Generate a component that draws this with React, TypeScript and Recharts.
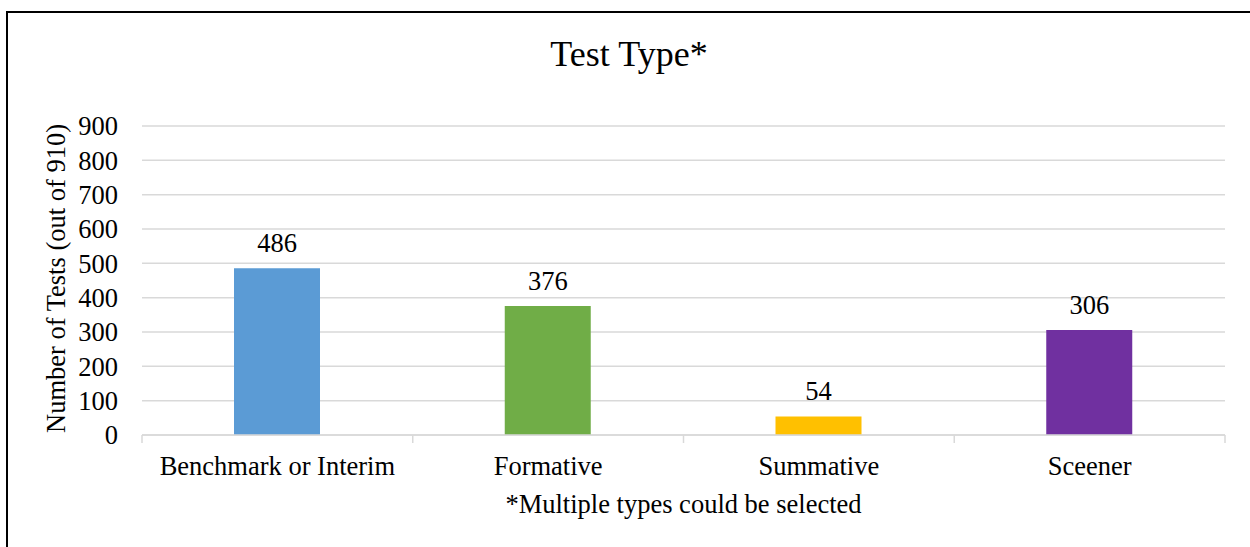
import { BarChart, Bar, XAxis, YAxis, CartesianGrid, Cell, LabelList } from "recharts";

const categories = ["Benchmark or Interim", "Formative", "Summative", "Sceener"];
const counts = [486, 376, 54, 306];
const yTicks = [0, 100, 200, 300, 400, 500, 600, 700, 800, 900];

const barColors = ["#5B9BD5", "#70AD47", "#FFC000", "#7030A0"];

// categories sit at i + 0.5 on a 0..4 numeric axis; whole numbers are the separators
const data = categories.map((name, i) => ({ name, pos: i + 0.5, value: counts[i] }));
const xTicks = [0, 0.5, 1, 1.5, 2, 2.5, 3, 3.5, 4];

const FONT = "'Times New Roman', 'Liberation Serif', serif";
const GRID = "#d9d9d9";

const XTick = (props: any) => {
  const { x, y, payload } = props;
  const v = payload.value;
  if (Number.isInteger(v)) {
    return <line x1={x} x2={x} y1={y} y2={y + 8} stroke={GRID} strokeWidth={1.5} />;
  }
  return (
    <text x={x} y={y + 40} textAnchor="middle" fill="#000" fontSize={26.5} fontFamily={FONT}>
      {categories[Math.floor(v)]}
    </text>
  );
};

export default function App() {
  return (
    <div
      style={{
        position: "absolute",
        left: 0,
        top: 0,
        width: 1250,
        height: 547,
        overflow: "hidden",
        background: "#fff",
        fontFamily: FONT,
      }}
    >
      <div
        style={{
          position: "absolute",
          left: 6,
          top: 11,
          width: 1270,
          height: 560,
          border: "2px solid #000",
        }}
      />
      <div
        style={{
          position: "absolute",
          left: 479,
          top: 36,
          width: 300,
          textAlign: "center",
          fontSize: 36,
          lineHeight: "36px",
          color: "#000",
        }}
      >
        Test Type*
      </div>
      <div style={{ position: "absolute", left: 0, top: 0 }}>
        <BarChart
          width={1250}
          height={547}
          data={data}
          margin={{ top: 126, right: 25, left: 0, bottom: 0 }}
        >
          <CartesianGrid vertical={false} stroke={GRID} strokeWidth={1.5} />
          <XAxis
            dataKey="pos"
            type="number"
            domain={[0, 4]}
            ticks={xTicks}
            interval={0}
            height={112}
            tickLine={false}
            tickSize={0}
            tickMargin={0}
            axisLine={{ stroke: GRID, strokeWidth: 1.5 }}
            tick={<XTick />}
            label={{
              value: "*Multiple types could be selected",
              position: "insideBottom",
              offset: 34,
              fill: "#000",
              fontSize: 26.5,
              fontFamily: FONT,
            }}
          />
          <YAxis
            width={142}
            domain={[0, 900]}
            ticks={yTicks}
            interval={0}
            axisLine={false}
            tickLine={false}
            tickSize={0}
            tickMargin={24}
            tick={{ fill: "#000", fontSize: 26.5, fontFamily: FONT }}
            label={{
              value: "Number of Tests (out of 910)",
              content: (props: any) => {
                const vb = props.viewBox || {};
                const cy = (vb.y ?? 126) + (vb.height ?? 309) / 2 - 2;
                return (
                  <text
                    x={56}
                    y={cy}
                    transform={`rotate(-90, 56, ${cy})`}
                    textAnchor="middle"
                    dominantBaseline="central"
                    fill="#000"
                    fontSize={26.5}
                    fontFamily={FONT}
                  >
                    Number of Tests (out of 910)
                  </text>
                );
              },
            }}
          />
          <Bar dataKey="value" barSize={86} isAnimationActive={false}>
            {data.map((d, i) => (
              <Cell key={d.name} fill={barColors[i]} />
            ))}
            <LabelList
              dataKey="value"
              position="top"
              offset={16}
              fill="#000"
              fontSize={26.5}
              fontFamily={FONT}
            />
          </Bar>
        </BarChart>
      </div>
    </div>
  );
}
